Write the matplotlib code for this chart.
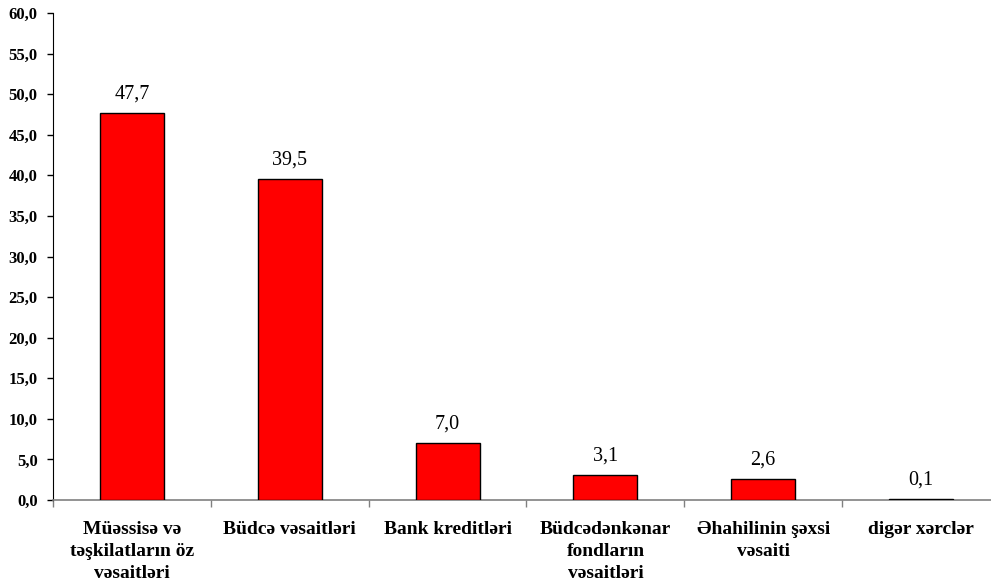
import matplotlib
matplotlib.use("Agg")
import matplotlib.pyplot as plt
import numpy as np

categories = ["Müəssisə və\ntəşkilatların öz\nvəsaitləri", "Büdcə vəsaitləri", "Bank kreditləri",
              "Büdcədənkənar\nfondların\nvəsaitləri", "Əhahilinin şəxsi\nvəsaiti", "digər xərclər"]
values = [47.7, 39.5, 7.0, 3.1, 2.6, 0.1]
yticks = [0, 5, 10, 15, 20, 25, 30, 35, 40, 45, 50, 55, 60]

plt.rcParams['font.family'] = ['Liberation Serif', 'DejaVu Serif']

W, H = 991, 588
fig = plt.figure(figsize=(W/100, H/100), dpi=100)
left, right, bottom, top = 53, 1000, 500, 13
ax = fig.add_axes([left/W, (H-bottom)/H, (right-left)/W, (bottom-top)/H])

x = np.arange(len(categories))
bars = ax.bar(x, values, width=0.405, color='#ff0000', edgecolor='black', linewidth=1.0, zorder=3)
ax.set_xlim(-0.5, len(categories)-0.5)
ax.set_ylim(0, 60)
ax.set_yticks(yticks)
ax.set_yticklabels([f"{v:.1f}".replace('.', ',') for v in yticks], fontsize=12, fontweight='bold')
ax.tick_params(axis='y', direction='out', length=4, width=1, color='black', pad=7)

ax.set_xticks(x)
ax.set_xticklabels(categories, fontsize=14, fontweight='bold', linespacing=1.38)
ax.tick_params(axis='x', length=0, pad=15)
ax.set_xticks(np.arange(len(categories)+1)-0.5, minor=True)
ax.tick_params(axis='x', which='minor', direction='out', length=5, width=1, color='#808080')

for s in ['top', 'right']:
    ax.spines[s].set_visible(False)
ax.spines['left'].set_color('black')
ax.spines['bottom'].set_color('#808080')
ax.spines['bottom'].set_linewidth(1.2)

for xi, v in zip(x, values):
    ax.annotate(f"{v:.1f}".replace('.', ','), (xi, v), xytext=(0, 7), textcoords='offset points',
                ha='center', va='bottom', fontsize=14.5)

fig.savefig("out.png", dpi=100)
